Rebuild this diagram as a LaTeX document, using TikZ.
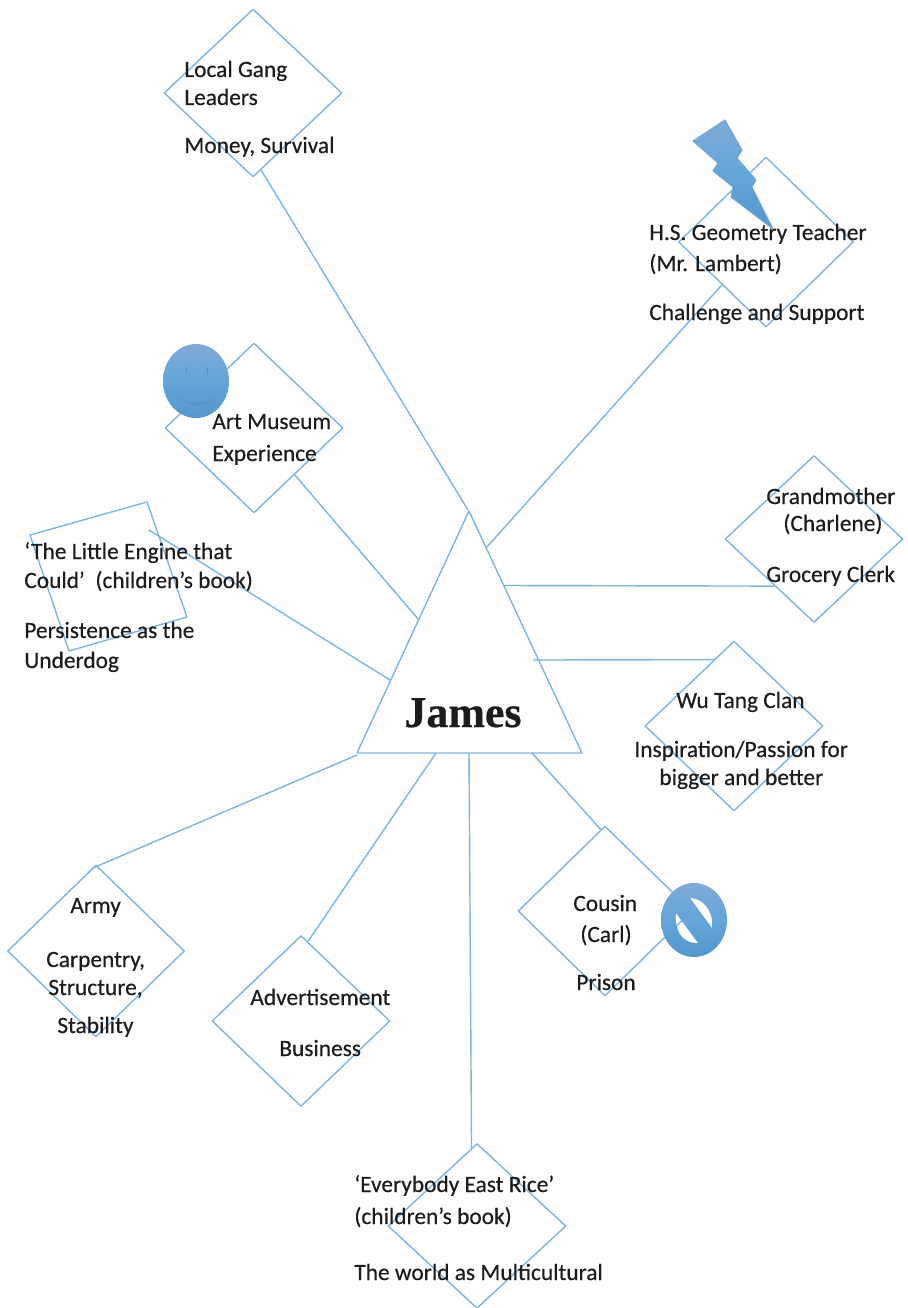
\documentclass[tikz,border=0pt]{standalone}
\usepackage{fontspec}
\setmainfont[RawFeature={embolden=0.35}]{Carlito}
\newfontfamily\jamesfont[BoldFeatures={RawFeature={embolden=0.5}}]{Liberation Serif}
\usetikzlibrary{shapes.geometric}
\definecolor{linkblue}{HTML}{7DB5E3}
\definecolor{icontop}{HTML}{7FABD6}
\definecolor{iconmid}{HTML}{64A5DA}
\definecolor{iconbot}{HTML}{5297CC}
\definecolor{ink}{HTML}{1C1C1C}
\tikzset{
  wire/.style={draw=linkblue,line width=0.8pt,line join=round},
  dia/.style={shape=diamond,wire,inner sep=0pt,fill=none},
  txt/.style={anchor=base west,inner sep=0pt,text=ink,font=\fontsize{13.3pt}{16pt}\selectfont},
  icon/.style={top color=icontop,bottom color=iconbot,middle color=iconmid,draw=none},
}
\begin{document}
\begin{tikzpicture}[x=0.02cm,y=-0.02cm]
\useasboundingbox[fill=white] (0,0) rectangle (907,1308);
% centre triangle
\coordinate (apex) at (469,511);
\coordinate (bl) at (357,753);
\coordinate (br) at (582,753);
\draw[wire] (apex) -- (bl) -- (br) -- cycle;
\node[anchor=base,inner sep=0pt,text=ink,font=\jamesfont\bfseries\fontsize{25pt}{30pt}\selectfont] (james) at (463,727) {James};
% triangle ports
\coordinate (pGang) at (468,510);
\coordinate (pTeacher) at (486,548);
\coordinate (pArt) at (419,620);
\coordinate (pEngine) at (390,680);
\coordinate (pGrand) at (503,585.5);
\coordinate (pWu) at (533,660);
\coordinate (pCousin) at (532,753);
\coordinate (pAd) at (436,753);
\coordinate (pArmy) at (357,755);
\coordinate (pRice) at (469,753);
\coordinate (riceBend) at (470,905);
\coordinate (engineEnd) at (149,530);
% engine square corners
\coordinate (e1) at (30,535);
\coordinate (e2) at (147,502);
\coordinate (e3) at (187,617);
\coordinate (e4) at (69,651);
% shapes
\node[dia,minimum width=3.56cm,minimum height=3.36cm] (gang) at (253,93) {};
\node[dia,minimum width=3.50cm,minimum height=3.40cm] (teacher) at (766,242) {};
\node[dia,minimum width=3.56cm,minimum height=3.40cm] (art) at (254,428) {};
\draw[wire] (e1) -- (e2) -- (e3) -- (e4) -- cycle;
\node[dia,minimum width=3.56cm,minimum height=3.34cm] (grand) at (814,539) {};
\node[dia,minimum width=3.56cm,minimum height=3.40cm] (wu) at (734,726) {};
\node[dia,minimum width=3.48cm,minimum height=3.40cm] (cousin) at (605,911) {};
\node[dia,minimum width=3.54cm,minimum height=3.44cm] (army) at (96,951) {};
\node[dia,minimum width=3.56cm,minimum height=3.42cm] (ad) at (301,1021) {};
\node[dia,minimum width=3.56cm,minimum height=3.30cm] (rice) at (477,1226) {};
% connectors
\draw[wire] (gang.-84) -- (pGang);
\draw[wire] (teacher.south west) -- (pTeacher);
\draw[wire] (art.-49) -- (pArt);
\draw[wire] (engineEnd) -- (pEngine);
\draw[wire] (grand.-130) -- (pGrand);
\draw[wire] (wu.107) -- (pWu);
\draw[wire] (cousin.93.5) -- (pCousin);
\draw[wire] (ad.85.7) -- (pAd);
\draw[wire] (army.93) -- (pArmy);
\draw[wire] (rice.94) -- (riceBend) -- (pRice);
% icons
\path[icon,draw=icontop!50!iconmid,line width=0.6pt,line join=round] (725,120) -- (693,141) -- (718,163) -- (713,171) -- (733,187) -- (731,197) -- (773,229) -- (752,187) -- (756,180) -- (737,158) -- (742,150) -- cycle;
\path[icon] (196,381) ellipse [x radius=33,y radius=37];
\draw[iconbot!80!black,line width=0.3pt,opacity=.45] (186,367) -- (186,373) (207,367) -- (207,373);
\draw[iconbot!80!black,line width=0.3pt,opacity=.45] (180,398) .. controls (189,406) and (205,406) .. (215,398);
\path[icon,even odd rule] (694,920) ellipse [x radius=33,y radius=37]
  (690,898) .. controls (702,898) and (714,910) .. (712,928) -- cycle
  (676,913) .. controls (674,930) and (682,944) .. (698,943) -- cycle;
% labels
\node[txt] (t1a) at (184,77) {Local Gang};
\node[txt] (t1b) at (184,105) {Leaders};
\node[txt] (t1c) at (184,153) {Money, Survival};
\node[txt] (t2a) at (649,240) {H.S. Geometry Teacher};
\node[txt] (t2b) at (649,271) {(Mr. Lambert)};
\node[txt] (t2c) at (649,320) {Challenge and Support};
\node[txt] (t3a) at (212,429) {Art Museum};
\node[txt] (t3b) at (212,461) {Experience};
\node[txt] (t4a) at (24,559) {‘The Little Engine that};
\node[txt] (t4b) at (24,588) {Could’ \ (children’s book)};
\node[txt] (t4c) at (24,638) {Persistence as the};
\node[txt] (t4d) at (24,668) {Underdog};
\node[txt] (t5a) at (766,504) {Grandmother};
\node[txt] (t5b) at (783,531) {(Charlene)};
\node[txt] (t5c) at (766,582) {Grocery Clerk};
\node[txt] (t6a) at (676,708) {Wu Tang Clan};
\node[txt] (t6b) at (634,757) {Inspiration/Passion for};
\node[txt] (t6c) at (659,785) {bigger and better};
\node[txt] (t7a) at (573,911) {Cousin};
\node[txt] (t7b) at (580,942) {(Carl)};
\node[txt] (t7c) at (576,990) {Prison};
\node[txt] (t8a) at (70,913) {Army};
\node[txt] (t8b) at (46,967) {Carpentry,};
\node[txt] (t8c) at (48,995) {Structure,};
\node[txt] (t8d) at (57,1033) {Stability};
\node[txt] (t9a) at (250,1005) {Advertisement};
\node[txt] (t9b) at (279,1056) {Business};
\node[txt] (t10a) at (354,1192) {‘Everybody East Rice’};
\node[txt] (t10b) at (354,1224) {(children’s book)};
\node[txt] (t10c) at (354,1280) {The world as Multicultural};
\end{tikzpicture}
\end{document}
